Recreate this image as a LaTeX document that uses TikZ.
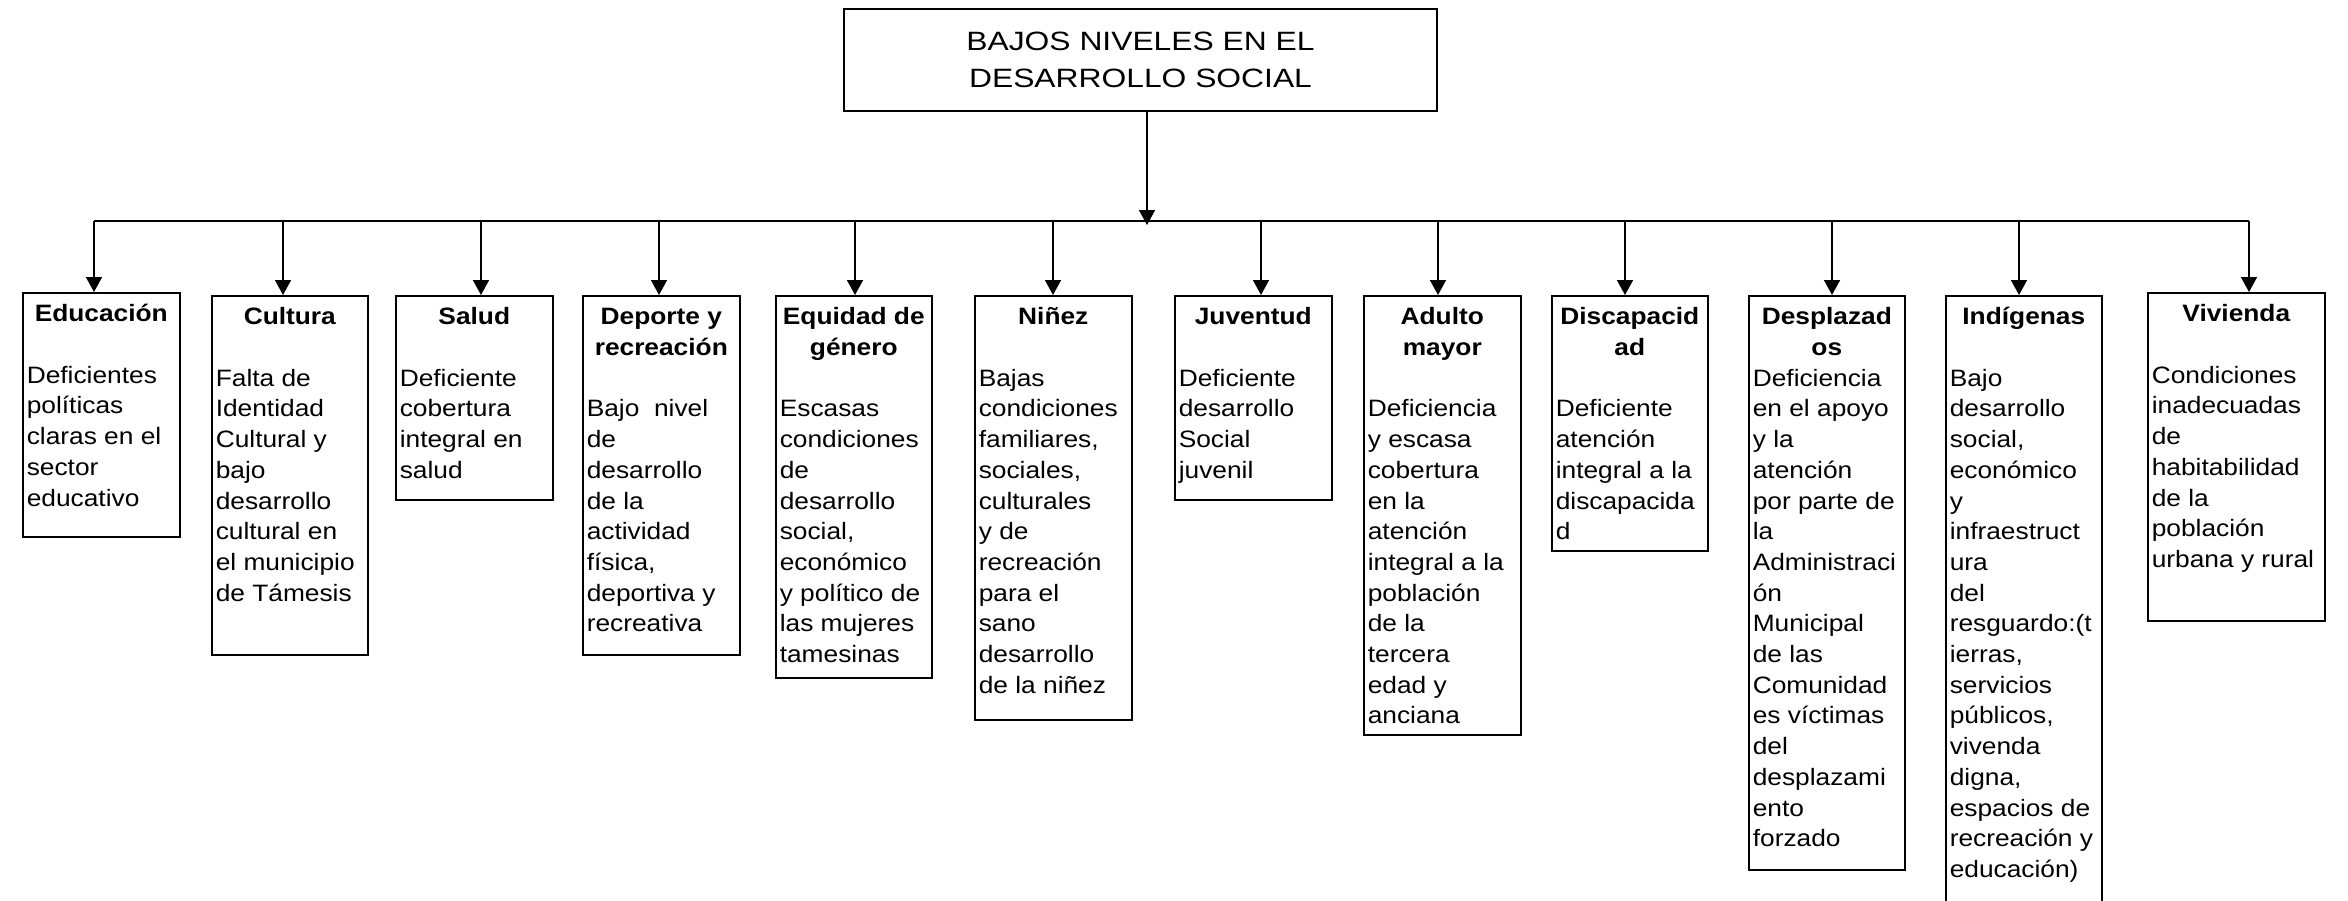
\documentclass[tikz,border=0pt]{standalone}
\usepackage{fontspec}
\setmainfont[FakeStretch=1.11]{Liberation Sans}
\newfontfamily\titulofont[FakeStretch=1.2]{Liberation Sans}
\usetikzlibrary{arrows.meta}

% box contents: width, height, header, gap, body
\newcommand{\contenido}[5]{%
  \parbox[c][#2pt][t]{#1pt}{\centering\bfseries\rule{0pt}{29pt}#3\par
    \vspace{#4pt}\raggedright\mdseries\leftskip=4pt #5}}

\begin{document}
\begin{tikzpicture}[x=1pt,y=-1pt,
    cuadro/.style={draw,line width=1.6pt,inner sep=0pt,anchor=north west,
      font=\fontsize{23.7}{30.7}\selectfont},
    flecha/.style={line width=1.6pt,-{Triangle[length=15pt,width=16pt]}}]
  \useasboundingbox (0,0) rectangle (2348,900);

  \node[draw,line width=1.6pt,minimum width=593pt,minimum height=102pt,align=center,
    font=\titulofont\fontsize{26.5}{37}\selectfont] (raiz) at (1140.5,60)
    {BAJOS NIVELES EN EL\\DESARROLLO SOCIAL};

  \node[cuadro] (educacion) at (22,292)
    {\contenido{157}{244}{Educación}{30.7}{Deficientes\\políticas\\claras en el\\sector\\educativo}};
  \node[cuadro] (cultura) at (211,295)
    {\contenido{156}{359}{Cultura}{30.7}{Falta de\\Identidad\\Cultural y\\bajo\\desarrollo\\cultural en\\el municipio\\de Támesis}};
  \node[cuadro] (salud) at (395,295)
    {\contenido{157}{204}{Salud}{30.7}{Deficiente\\cobertura\\integral en\\salud}};
  \node[cuadro] (deporte) at (582,295)
    {\contenido{157}{359}{Deporte y\\recreación}{30.7}{Bajo\ \ nivel\\de\\desarrollo\\de la\\actividad\\física,\\deportiva y\\recreativa}};
  \node[cuadro] (equidad) at (775,295)
    {\contenido{156}{382}{Equidad de\\género}{30.7}{Escasas\\condiciones\\de\\desarrollo\\social,\\económico\\y político de\\las mujeres\\tamesinas}};
  \node[cuadro] (ninez) at (974,295)
    {\contenido{157}{424}{Niñez}{30.7}{Bajas\\condiciones\\familiares,\\sociales,\\culturales\\y de\\recreación\\para el\\sano\\desarrollo\\de la niñez}};
  \node[cuadro] (juventud) at (1174,295)
    {\contenido{157}{204}{Juventud}{30.7}{Deficiente\\desarrollo\\Social\\juvenil}};
  \node[cuadro] (adulto) at (1363,295)
    {\contenido{157}{439}{Adulto\\mayor}{30.7}{Deficiencia\\y escasa\\cobertura\\en la\\atención\\integral a la\\población\\de la\\tercera\\edad y\\anciana}};
  \node[cuadro] (discapacidad) at (1551,295)
    {\contenido{156}{255}{Discapacid\\ad}{30.7}{Deficiente\\atención\\integral a la\\discapacida\\d}};
  \node[cuadro] (desplazados) at (1748,295)
    {\contenido{156}{574}{Desplazad\\os}{0}{Deficiencia\\en el apoyo\\y la\\atención\\por parte de\\la\\Administraci\\ón\\Municipal\\de las\\Comunidad\\es víctimas\\del\\desplazami\\ento\\forzado}};
  \node[cuadro] (indigenas) at (1945,295)
    {\contenido{156}{620}{Indígenas}{30.7}{Bajo\\desarrollo\\social,\\económico\\y\\infraestruct\\ura\\del\\resguardo:(t\\ierras,\\servicios\\públicos,\\vivenda\\digna,\\espacios de\\recreación y\\educación)}};
  \node[cuadro] (vivienda) at (2147,292)
    {\contenido{177}{328}{Vivienda}{30.7}{Condiciones\\inadecuadas\\de\\habitabilidad\\de la\\población\\urbana y rural}};

  % bar
  \coordinate (union) at (1147,225);
  \coordinate (p-educacion) at (94,221);
  \coordinate (p-cultura) at (283,221);
  \coordinate (p-salud) at (481,221);
  \coordinate (p-deporte) at (659,221);
  \coordinate (p-equidad) at (855,221);
  \coordinate (p-ninez) at (1053,221);
  \coordinate (p-juventud) at (1261,221);
  \coordinate (p-adulto) at (1438,221);
  \coordinate (p-discapacidad) at (1625,221);
  \coordinate (p-desplazados) at (1832,221);
  \coordinate (p-indigenas) at (2019,221);
  \coordinate (p-vivienda) at (2249,221);

  \draw[flecha] (raiz.south -| union) -- (union);
  \draw[line width=1.6pt] (p-educacion) -- (p-vivienda);

  \draw[flecha] (p-educacion) -- (p-educacion |- educacion.north);
  \draw[flecha] (p-cultura) -- (p-cultura |- cultura.north);
  \draw[flecha] (p-salud) -- (p-salud |- salud.north);
  \draw[flecha] (p-deporte) -- (p-deporte |- deporte.north);
  \draw[flecha] (p-equidad) -- (p-equidad |- equidad.north);
  \draw[flecha] (p-ninez) -- (p-ninez |- ninez.north);
  \draw[flecha] (p-juventud) -- (p-juventud |- juventud.north);
  \draw[flecha] (p-adulto) -- (p-adulto |- adulto.north);
  \draw[flecha] (p-discapacidad) -- (p-discapacidad |- discapacidad.north);
  \draw[flecha] (p-desplazados) -- (p-desplazados |- desplazados.north);
  \draw[flecha] (p-indigenas) -- (p-indigenas |- indigenas.north);
  \draw[flecha] (p-vivienda) -- (p-vivienda |- vivienda.north);
\end{tikzpicture}
\end{document}
